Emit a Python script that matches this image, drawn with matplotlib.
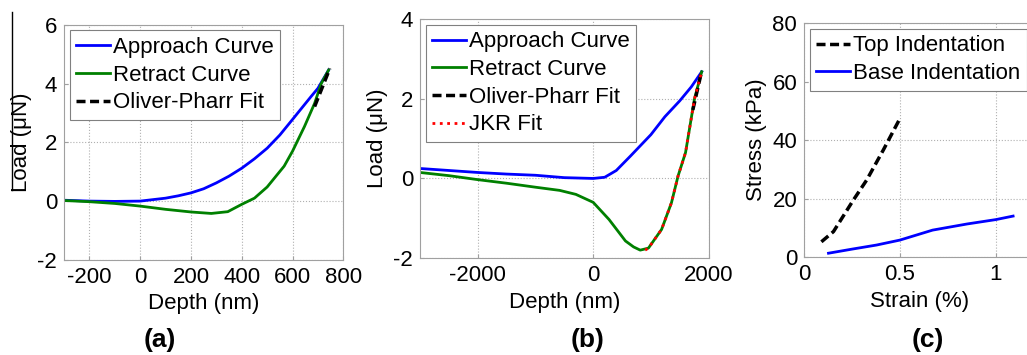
import matplotlib
matplotlib.use('Agg')
import matplotlib.pyplot as plt
from matplotlib.lines import Line2D

plt.rcParams['font.family'] = ['Liberation Sans', 'DejaVu Sans']
plt.rcParams['axes.unicode_minus'] = False

# panel (a): load vs depth, small indentation
a_app_x = [-300, -200, -100, 0, 100, 150, 200, 250, 300, 350, 400, 450, 500, 550, 600, 673, 700, 742]
a_app_y = [0.03, 0.0, -0.01, 0.0, 0.1, 0.18, 0.28, 0.42, 0.62, 0.85, 1.12, 1.44, 1.8, 2.25, 2.78, 3.56, 3.84, 4.46]
a_ret_x = [-300, -200, -100, 0, 100, 200, 280, 345, 400, 450, 500, 567, 600, 647, 687, 713, 742]
a_ret_y = [0.02, -0.02, -0.08, -0.17, -0.28, -0.37, -0.42, -0.36, -0.11, 0.1, 0.48, 1.19, 1.7, 2.54, 3.33, 4.0, 4.46]
a_op_x = [687, 747]
a_op_y = [3.22, 4.52]

# panel (b): load vs depth, large indentation
b_app_x = [-3000, -2500, -2000, -1500, -1000, -500, 0, 200, 400, 644, 1000, 1242, 1500, 1700, 1880]
b_app_y = [0.25, 0.2, 0.15, 0.11, 0.08, 0.02, 0.0, 0.03, 0.2, 0.56, 1.1, 1.55, 1.95, 2.3, 2.68]
b_ret_x = [-3000, -2500, -2000, -1500, -1000, -580, -300, 0, 274, 559, 700, 815, 957, 1185, 1356, 1470, 1600, 1755, 1880]
b_ret_y = [0.15, 0.07, -0.03, -0.12, -0.22, -0.3, -0.4, -0.6, -1.03, -1.57, -1.72, -1.8, -1.75, -1.28, -0.61, 0.06, 0.65, 2.0, 2.68]
b_op_x = [1726, 1880]
b_op_y = [1.72, 2.7]
b_jkr_x = [900, 957, 1185, 1356, 1470, 1600, 1755, 1880]
b_jkr_y = [-1.8, -1.75, -1.28, -0.61, 0.06, 0.65, 2.0, 2.68]

# panel (c): stress vs strain
c_top_x = [0.09, 0.153, 0.257, 0.326, 0.413, 0.5]
c_top_y = [5.2, 8.7, 19.5, 26.3, 36.6, 47.4]
c_base_x = [0.127, 0.25, 0.378, 0.5, 0.67, 0.85, 1.0, 1.09]
c_base_y = [1.3, 2.7, 4.1, 5.8, 9.2, 11.3, 12.8, 14.0]

BLUE = '#0000ff'
GREEN = '#008000'
FS = 16
DASH = (2.6, 1.3)

fig = plt.figure(figsize=(10.27, 3.55), dpi=100)


def style(ax):
  ax.grid(True, linestyle=':', color='#b0b0b0', linewidth=0.8)
  ax.set_axisbelow(True)
  for s in ax.spines.values():
    s.set_color('#a0a0a0')
  ax.tick_params(direction='in', length=3, color='#a0a0a0', labelsize=FS, pad=5)


def legend(ax):
  leg = ax.legend(loc='upper left', fontsize=FS, handlelength=1.5, handletextpad=0.15,
                  borderpad=0.3, labelspacing=0.3, borderaxespad=0.25, fancybox=False,
                  framealpha=1, edgecolor='#808080')
  leg.get_frame().set_linewidth(0.8)
  return leg


# (a)
ax1 = fig.add_axes([0.0623, 0.268, 0.272, 0.662])
ax1.plot(a_app_x, a_app_y, color=BLUE, lw=2, label='Approach Curve')
ax1.plot(a_ret_x, a_ret_y, color=GREEN, lw=2, label='Retract Curve')
ax1.plot(a_op_x, a_op_y, color='black', lw=2.5, ls='--', dashes=DASH, label='Oliver-Pharr Fit')
ax1.set_xlim(-300, 800)
ax1.set_ylim(-2, 6)
ax1.set_xticks([-200, 0, 200, 400, 600, 800])
ax1.set_yticks([-2, 0, 2, 4, 6])
ax1.set_xlabel('Depth (nm)', fontsize=FS)
ax1.set_ylabel('Load (\u03bcN)', fontsize=FS, labelpad=4)
style(ax1)
legend(ax1)

# (b)
ax2 = fig.add_axes([0.409, 0.273, 0.281, 0.673])
ax2.plot(b_app_x, b_app_y, color=BLUE, lw=2, label='Approach Curve')
ax2.plot(b_ret_x, b_ret_y, color=GREEN, lw=2, label='Retract Curve')
ax2.plot(b_op_x, b_op_y, color='black', lw=2.5, ls='--', dashes=DASH, label='Oliver-Pharr Fit')
ax2.plot(b_jkr_x, b_jkr_y, color='red', lw=2, ls=':', label='JKR Fit')
ax2.set_xlim(-3000, 2000)
ax2.set_ylim(-2, 4)
ax2.set_xticks([-2000, 0, 2000])
ax2.set_yticks([-2, 0, 2, 4])
ax2.set_xlabel('Depth (nm)', fontsize=FS)
ax2.set_ylabel('Load (\u03bcN)', fontsize=FS, labelpad=4)
style(ax2)
legend(ax2)

# (c)
ax3 = fig.add_axes([0.783, 0.276, 0.224, 0.659])
ax3.plot(c_top_x, c_top_y, color='black', lw=2.5, ls='--', dashes=DASH, label='Top Indentation')
ax3.plot(c_base_x, c_base_y, color=BLUE, lw=2, label='Base Indentation')
ax3.set_xlim(0, 1.2)
ax3.set_ylim(0, 80)
ax3.set_xticks([0, 0.5, 1])
ax3.set_xticklabels(['0', '0.5', '1'])
ax3.set_yticks([0, 20, 40, 60, 80])
ax3.set_xlabel('Strain (%)', fontsize=FS)
ax3.set_ylabel('Stress (kPa)', fontsize=FS, labelpad=4)
style(ax3)
legend(ax3)

# panel letters
for x, t in [(0.156, '(a)'), (0.572, '(b)'), (0.903, '(c)')]:
  fig.text(x, 0.042, t, fontsize=19, fontweight='bold', ha='center', va='center')

# stray vertical rule over the first y label
fig.add_artist(Line2D([12 / 1027, 12 / 1027], [1 - 12 / 355, 1 - 190 / 355],
                      color='black', lw=1, transform=fig.transFigure))

fig.savefig('out.png', dpi=100)
